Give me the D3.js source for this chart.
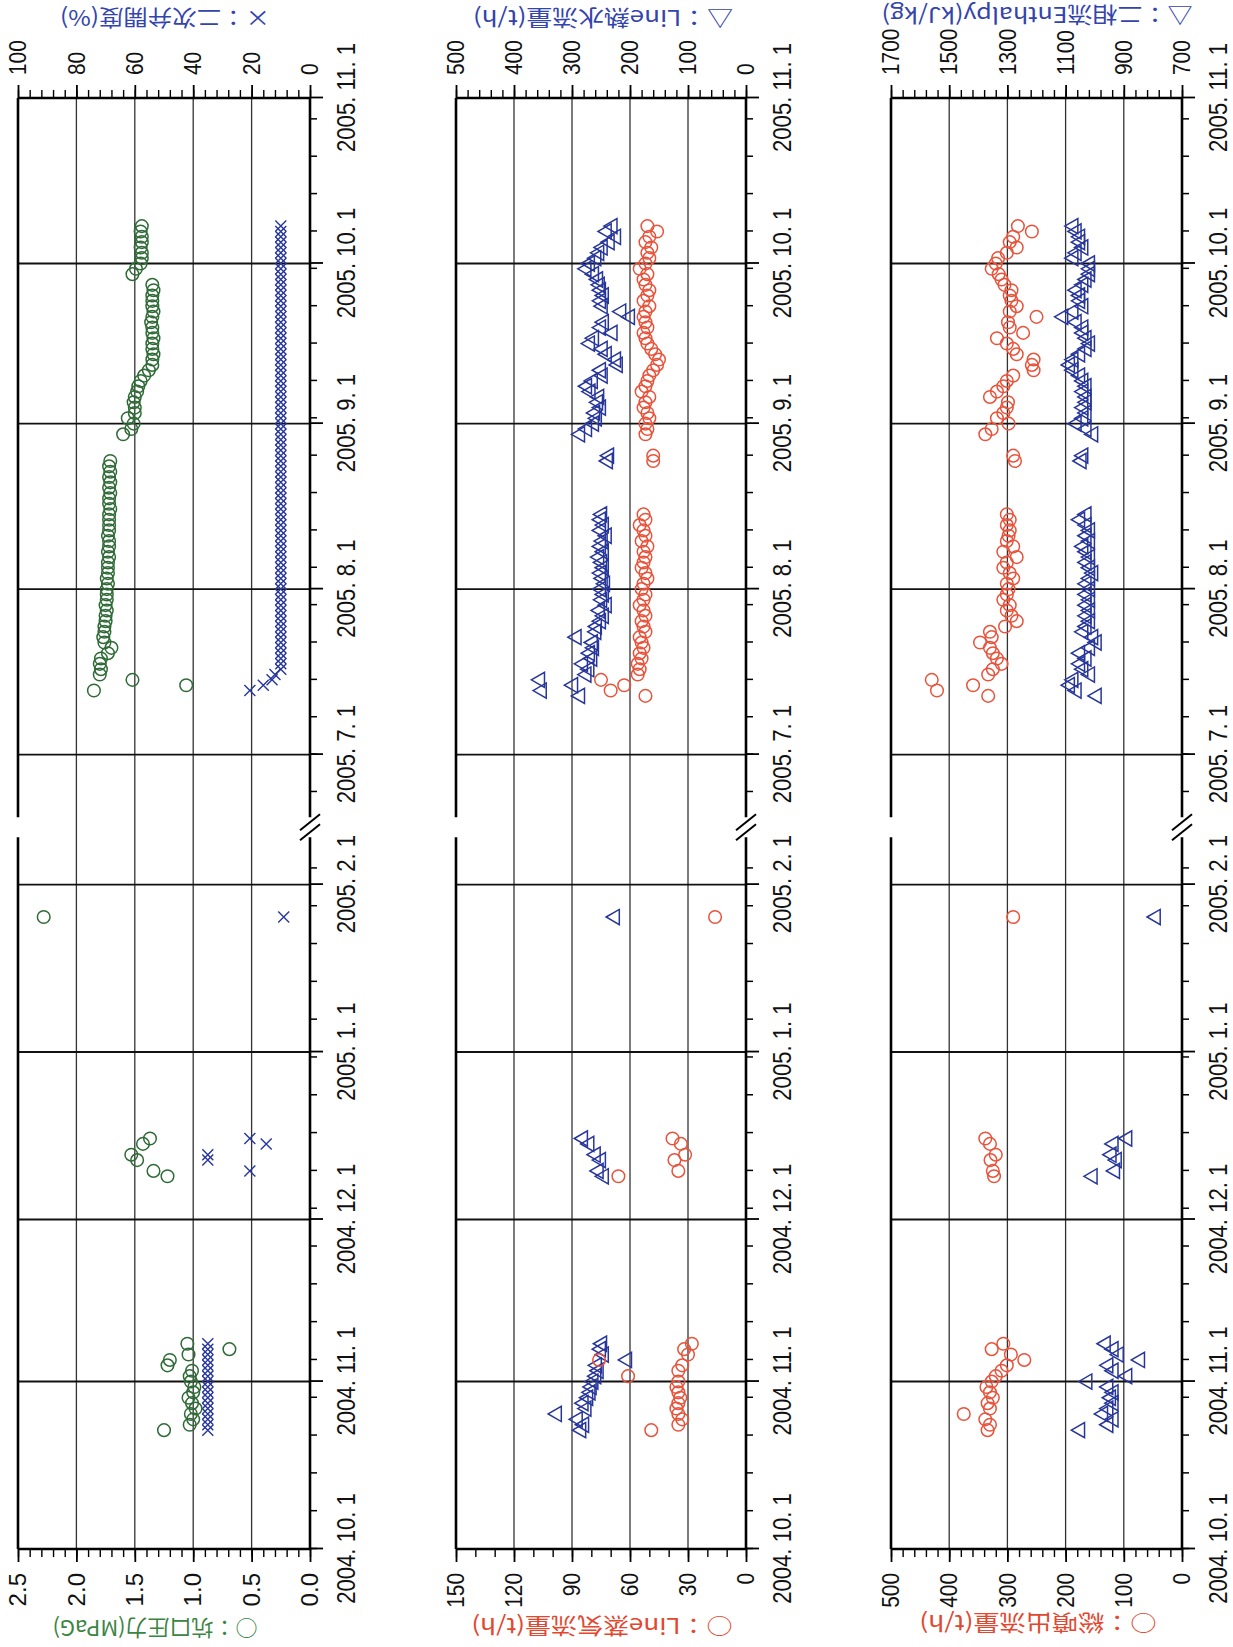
<!DOCTYPE html>
<html>
<head>
<meta charset="utf-8">
<script src="https://cdn.jsdelivr.net/npm/d3@7"></script>
<style>
  body { margin: 0; background: #fff; }
  svg { display: block; }
</style>
</head>
<body>
<svg id="chart" width="1233" height="1647"></svg>
<script>
// well head readings (left panel)
const wellDates = [
  "2004-10-23","2004-10-24","2004-10-25","2004-10-26","2004-10-27","2004-10-28","2004-10-29","2004-10-30","2004-10-31",
  "2004-11-01","2004-11-02","2004-11-03","2004-11-04","2004-11-05","2004-11-06","2004-11-07","2004-11-08",
  "2004-12-09","2004-12-10","2004-12-12","2004-12-13","2004-12-15","2004-12-16",
  "2005-01-26",
  "2005-07-13","2005-07-14","2005-07-15","2005-07-16","2005-07-17","2005-07-18","2005-07-19","2005-07-20","2005-07-21",
  "2005-07-22","2005-07-23","2005-07-24","2005-07-25","2005-07-26","2005-07-27","2005-07-28","2005-07-29","2005-07-30","2005-07-31",
  "2005-08-01","2005-08-02","2005-08-03","2005-08-04","2005-08-05","2005-08-06","2005-08-07","2005-08-08","2005-08-09","2005-08-10",
  "2005-08-11","2005-08-12","2005-08-13","2005-08-14","2005-08-15","2005-08-16","2005-08-17","2005-08-18","2005-08-19","2005-08-20",
  "2005-08-21","2005-08-22","2005-08-23","2005-08-24","2005-08-25","2005-08-26","2005-08-27","2005-08-28","2005-08-29","2005-08-30","2005-08-31",
  "2005-09-01","2005-09-02","2005-09-03","2005-09-04","2005-09-05","2005-09-06","2005-09-07","2005-09-08","2005-09-09","2005-09-10",
  "2005-09-11","2005-09-12","2005-09-13","2005-09-14","2005-09-15","2005-09-16","2005-09-17","2005-09-18","2005-09-19","2005-09-20",
  "2005-09-21","2005-09-22","2005-09-23","2005-09-24","2005-09-25","2005-09-26","2005-09-27","2005-09-28","2005-09-29","2005-09-30",
  "2005-10-01","2005-10-02","2005-10-03","2005-10-04","2005-10-05","2005-10-06","2005-10-07","2005-10-08"
];
const wellPressure = [
  1.25, 1.03, 1.00, 1.02, 0.98, 1.01, 1.04, 1.00, 0.99,
  1.02, 1.03, 1.01, 1.22, 1.20, 1.04, 0.69, 1.05,
  1.22, 1.34, 1.48, 1.53, 1.43, 1.37,
  2.28,
  1.85, 1.06, 1.52, 1.80, 1.79, 1.80, 1.79, 1.73, 1.70,
  1.76, 1.77, 1.76, 1.76, 1.75, 1.75, 1.74, 1.75, 1.74, 1.74,
  1.74, 1.73, 1.74, 1.73, 1.73, 1.73, 1.72, 1.73, 1.72, 1.72,
  1.73, 1.72, 1.72, 1.72, 1.72, 1.71, 1.72, 1.72, 1.71, 1.72,
  1.71, 1.72, 1.71, 1.72, 1.71, null, null, null, null, 1.60, 1.53,
  1.51, 1.56, 1.50, 1.50, 1.51, 1.50, 1.48, 1.47, 1.45, 1.42,
  1.38, 1.35, 1.35, 1.34, 1.35, 1.35, 1.34, 1.35, 1.35, 1.36,
  1.35, 1.34, 1.35, 1.35, 1.35, 1.34, 1.35, null, 1.52, 1.49,
  1.45, 1.44, 1.44, 1.45, 1.44, 1.44, 1.45, 1.44
];
const valveOpening = [
  35, 35, 35, 35, 35, 35, 35, 35, 35,
  35, 35, 35, 35, 35, 35, 35, 35,
  null, 20.6, 35, 35, 15, 20.6,
  9,
  20.6, 16, 13, 12, 10, 10, 10, 10, 10,
  10, 10, 10, 10, 10, 10, 10, 10, 10, 10,
  10, 10, 10, 10, 10, 10, 10, 10, 10, 10,
  10, 10, 10, 10, 10, 10, 10, 10, 10, 10,
  10, 10, 10, 10, 10, 10, 10, 10, 10, 10, 10,
  10, 10, 10, 10, 10, 10, 10, 10, 10, 10,
  10, 10, 10, 10, 10, 10, 10, 10, 10, 10,
  10, 10, 10, 10, 10, 10, 10, 10, 10, 10,
  10, 10, 10, 10, 10, 10, 10, 10
];

// flow measurements (middle and right panels)
const flowDates = [
  "2004-10-23","2004-10-24","2004-10-25","2004-10-26","2004-10-27","2004-10-28","2004-10-29","2004-10-30","2004-10-31",
  "2004-11-01","2004-11-02","2004-11-03","2004-11-04","2004-11-05","2004-11-06","2004-11-07","2004-11-08",
  "2004-12-09","2004-12-10","2004-12-12","2004-12-13","2004-12-15","2004-12-16",
  "2005-01-26",
  "2005-07-12","2005-07-13","2005-07-14","2005-07-15",
  "2005-07-16","2005-07-17","2005-07-18","2005-07-19","2005-07-20","2005-07-21","2005-07-22","2005-07-23","2005-07-24","2005-07-25",
  "2005-07-26","2005-07-27","2005-07-28","2005-07-29","2005-07-30","2005-07-31",
  "2005-08-01","2005-08-02","2005-08-03","2005-08-04","2005-08-05","2005-08-06","2005-08-07","2005-08-08","2005-08-09","2005-08-10",
  "2005-08-11","2005-08-12","2005-08-13","2005-08-14","2005-08-15",
  "2005-08-25","2005-08-26",
  "2005-08-30","2005-08-31",
  "2005-09-01","2005-09-02","2005-09-03","2005-09-04","2005-09-05","2005-09-06","2005-09-07","2005-09-08","2005-09-09","2005-09-10",
  "2005-09-11","2005-09-12","2005-09-13","2005-09-14","2005-09-15","2005-09-16","2005-09-17","2005-09-18","2005-09-19","2005-09-20",
  "2005-09-21","2005-09-22","2005-09-23","2005-09-24","2005-09-25","2005-09-26","2005-09-27","2005-09-28","2005-09-29","2005-09-30",
  "2005-10-01","2005-10-02","2005-10-03","2005-10-04","2005-10-05","2005-10-06","2005-10-07","2005-10-08"
];
const steamFlow = [
  49, 35, 33, 35, 36, 35, 34, 35, 36,
  35, 61, 35, 33, 76, 30, 32, 28,
  66, 35, 37, 31.5, 33.7, 38,
  16,
  52, 70, 63, 75,
  56, 55, 56, 54, 55, 53, 54, 55, 52, 53,
  54, 52, 53, 55, 53, 52,
  54, 53, 51, 52, 54, 53, 52, 53, 51, 54,
  52, 53, 55, 52, 53,
  48, 48,
  52, 51,
  52, 50, 51, 53, 52, 50, 54, 52, 51, 50,
  48, 46, 45, 47, 49, 51, 52, 53, 51, 52,
  53, 52, 50, 53, 51, 50, 52, 53, 51, 55,
  52, 50, 51, 49, 52, 50, 46, 51
];
const waterFlow = [
  284, 279, 290, 326, 275, 280, 272, 268, 266,
  263, 258, 254, 257, 205, 245, 250, 248,
  245, 254, 250, 259, 270, 281,
  226,
  286, 352, 298, 355,
  275, 270, 281, 265, 269, 262, 264, 292, 258, 257,
  250, 245, 252, 240, 248, 245,
  250, 243, 247, 250, 245, 248, 253, 245, 250, 247,
  240, 250, 245, 250, 248,
  238, 236,
  286, 274,
  262, 257, 260, 250, 255, 253, 268, 274, 264, 247,
  250, 221, 224, 240, 247, 269, 262, 230, 250, 245,
  200, 215, 247, 250, 245, 250, 252, 255, 262, 275,
  269, 258, 253, 247, 235, 224, 240, 230
];
const totalFlow = [
  334, 330, 338, 375, 330, 334, 325, 330, 336,
  327, 320, 310, 301, 271, 294, 327, 307,
  323, 325, 329, 320, 330, 338,
  290,
  333, 421, 359, 430,
  333, 325, 310, 318, 325, 330, 347, 327, 330, 304,
  284, 293, 301, 296, 307, 301,
  298, 301, 290, 296, 307, 301, 284, 307, 290, 301,
  298, 296, 301, 296, 301,
  287, 290,
  338, 327,
  298, 318, 307, 301, 299, 330, 318, 307, 301, 290,
  255, 258, 255, 284, 290, 301, 318, 273, 296, 299,
  250, 296, 284, 293, 296, 293, 305, 310, 315, 327,
  320, 316, 301, 284, 296, 290, 258, 282
];
const enthalpy = [
  1050, 953, 935, 971, 953, 935, 944, 935, 953,
  1025, 888, 935, 953, 844, 917, 935, 962,
  1007, 930, 924, 942, 935, 888,
  790,
  993, 1062, 1085, 1073,
  1016, 1039, 1050, 1028, 1050, 1016, 993, 1005, 1039, 1028,
  1016, 1028, 1016, 1028, 1016, 1028,
  1016, 1028, 1016, 1005, 1016, 1028, 1016, 1028, 1039, 1016,
  1028, 1016, 1028, 1050, 1028,
  1045, 1039,
  1005, 1028,
  1062, 1039, 1028, 1039, 1028, 1028, 1039, 1028, 1039, 1050,
  1073, 1085, 1073, 1050, 1028, 1016, 1028, 1039, 1039, 1062,
  1108, 1073, 1039, 1050, 1050, 1062, 1039, 1028, 1016, 1016,
  1016, 1073, 1062, 1039, 1050, 1050, 1062, 1073
];

// axis ticks
const monthTicks = ["2004-10-01","2004-11-01","2004-12-01","2005-01-01","2005-02-01",
                    "2005-07-01","2005-08-01","2005-09-01","2005-10-01","2005-11-01"];
const axisSegments = ["2004-10-01","2005-02-11","2005-06-18","2005-11-01"]; // broken time axis
const pressureTicks = [0, 0.5, 1.0, 1.5, 2.0, 2.5];
const valveTicks = [0, 20, 40, 60, 80, 100];
const steamTicks = [0, 30, 60, 90, 120, 150];
const waterTicks = [0, 100, 200, 300, 400, 500];
const totalTicks = [0, 100, 200, 300, 400, 500];
const enthalpyTicks = [700, 900, 1100, 1300, 1500, 1700];

document.addEventListener("DOMContentLoaded", function() {
    const W = 1647; // the chart is drawn landscape, then turned onto the portrait page
    const svg = d3.select("#chart");
    const g = svg.append("g").attr("transform", `translate(0,${W}) rotate(-90)`);
    const parse = d3.timeParse("%Y-%m-%d");

    const GREEN = "#2f6b36", GREEN_T = "#3b8443";
    const BLUE = "#27369a", BLUE_T = "#3444ad";
    const RED = "#e8533b", RED_T = "#e2472f";

    const x = d3.scaleTime().domain(axisSegments.map(parse)).range([98, 816.4, 823, 1549]);
    const xa = x(parse(axisSegments[0])), xb = x(parse(axisSegments[3]));
    const breakX = (x(parse(axisSegments[1])) + x(parse(axisSegments[2]))) / 2;
    const fmtDate = d => `${d.getFullYear()}. ${d.getMonth() + 1}. ${d.getDate()}`;
    const fridays = d3.timeFriday.range(parse(axisSegments[0]), parse(axisSegments[1]))
        .concat(d3.timeFriday.range(parse(axisSegments[2]), parse(axisSegments[3])));

    const wellRows = wellDates.map((d, i) => ({date: parse(d), a: wellPressure[i], b: valveOpening[i]}));
    const steamRows = flowDates.map((d, i) => ({date: parse(d), a: steamFlow[i], b: waterFlow[i]}));
    const totalRows = flowDates.map((d, i) => ({date: parse(d), a: totalFlow[i], b: enthalpy[i]}));

    const panels = [
        {top: 18, bottom: 310, rows: wellRows,
         left: {ticks: pressureTicks, minor: 0.1, fmt: d3.format(".1f"), k: 1.0},
         right: {ticks: valveTicks, minor: 4, fmt: d3.format("d"), k: 0.87},
         aColor: GREEN, bMark: "cross", bColor: BLUE,
         titles: [
             {text: "○：坑口圧力(MPaG)", color: GREEN_T, ox: 17, oy: 155, len: 205},
             {text: "×：二次弁開度(%)", color: BLUE_T, ox: 1627, oy: 165, len: 210}]},
        {top: 456, bottom: 746, rows: steamRows,
         left: {ticks: steamTicks, minor: 10, fmt: d3.format("d"), k: 0.87},
         right: {ticks: waterTicks, minor: 20, fmt: d3.format("d"), k: 0.87},
         aColor: RED, bMark: "triangle", bColor: BLUE,
         titles: [
             {text: "○：Line蒸気流量(t/h)", color: RED_T, ox: 19, oy: 602, len: 261},
             {text: "△：Line熱水流量(t/h)", color: BLUE_T, ox: 1627, oy: 603, len: 260}]},
        {top: 891, bottom: 1182, rows: totalRows,
         left: {ticks: totalTicks, minor: 20, fmt: d3.format("d"), k: 0.87},
         right: {ticks: enthalpyTicks, minor: 40, fmt: d3.format("d"), k: 0.87},
         aColor: RED, bMark: "triangle", bColor: BLUE,
         titles: [
             {text: "○：総噴出流量(t/h)", color: RED_T, ox: 22, oy: 1038, len: 237},
             {text: "△：二相流Enthalpy(kJ/kg)", color: BLUE_T, ox: 1630, oy: 1037, len: 311}]}
    ];

    function squeeze(sel, k) {
        sel.each(function() {
            const L = this.getComputedTextLength();
            d3.select(this).attr("textLength", L * k).attr("lengthAdjust", "spacingAndGlyphs");
        });
    }

    function styleAxis(ax, size) {
        ax.attr("font-family", "'Liberation Sans', Arial, sans-serif").attr("font-size", size);
        ax.select(".domain").remove();
        ax.selectAll("line").attr("stroke", "#000").attr("stroke-width", 1.8);
        ax.selectAll("text").attr("fill", "#111");
    }

    panels.forEach(p => {
        const yA = d3.scaleLinear().domain(d3.extent(p.left.ticks)).range([p.bottom, p.top]);
        const yB = d3.scaleLinear().domain(d3.extent(p.right.ticks)).range([p.bottom, p.top]);

        // value grid
        g.append("g").selectAll("line")
            .data(p.left.ticks.slice(1, -1))
            .enter().append("line")
            .attr("x1", xa).attr("x2", xb)
            .attr("y1", d => yA(d)).attr("y2", d => yA(d))
            .attr("stroke", "#333").attr("stroke-width", 1.3);

        // month grid
        g.append("g").selectAll("line")
            .data(monthTicks.slice(1, -1).map(parse))
            .enter().append("line")
            .attr("x1", d => x(d)).attr("x2", d => x(d))
            .attr("y1", p.top).attr("y2", p.bottom)
            .attr("stroke", "#111").attr("stroke-width", 1.9);

        // value axes, left and right of the landscape frame
        const lo = d3.extent(p.left.ticks), ro = d3.extent(p.right.ticks);
        const axL = g.append("g").attr("transform", `translate(${xa},0)`)
            .call(d3.axisLeft(yA).tickValues(p.left.ticks).tickSize(13).tickPadding(11).tickFormat(p.left.fmt));
        styleAxis(axL, 24);
        squeeze(axL.selectAll("text"), p.left.k);
        const axLm = g.append("g").attr("transform", `translate(${xa},0)`)
            .call(d3.axisLeft(yA).tickValues(d3.range(lo[0], lo[1] + 1e-9, p.left.minor)).tickSize(8).tickFormat(""));
        styleAxis(axLm, 10);
        axLm.selectAll("line").attr("stroke-width", 1.4);

        const axR = g.append("g").attr("transform", `translate(${xb},0)`)
            .call(d3.axisRight(yB).tickValues(p.right.ticks).tickSize(13).tickPadding(10).tickFormat(p.right.fmt));
        styleAxis(axR, 24);
        squeeze(axR.selectAll("text"), p.right.k);
        const axRm = g.append("g").attr("transform", `translate(${xb},0)`)
            .call(d3.axisRight(yB).tickValues(d3.range(ro[0], ro[1] + 1e-9, p.right.minor)).tickSize(8).tickFormat(""));
        styleAxis(axRm, 10);
        axRm.selectAll("line").attr("stroke-width", 1.4);

        // time axis under each panel
        const axT = g.append("g").attr("transform", `translate(0,${p.bottom})`)
            .call(d3.axisBottom(x).tickValues(monthTicks.map(parse)).tickSize(13).tickPadding(14).tickFormat(fmtDate));
        styleAxis(axT, 26);
        squeeze(axT.selectAll("text"), 0.85);
        const axTm = g.append("g").attr("transform", `translate(0,${p.bottom})`)
            .call(d3.axisBottom(x).tickValues(fridays).tickSize(7).tickFormat(""));
        styleAxis(axTm, 10);
        axTm.selectAll("line").attr("stroke-width", 1.5);

        // frame, with the break in the time direction
        const frame = g.append("g").attr("stroke", "#000").attr("stroke-width", 2.6).attr("fill", "none");
        [xa, xb].forEach(xx => frame.append("line").attr("x1", xx).attr("x2", xx).attr("y1", p.top).attr("y2", p.bottom));
        [p.top, p.bottom].forEach(yy => {
            frame.append("line").attr("x1", xa).attr("x2", breakX - 10).attr("y1", yy).attr("y2", yy);
            frame.append("line").attr("x1", breakX + 10).attr("x2", xb).attr("y1", yy).attr("y2", yy);
        });
        [-5, 5].forEach(dx => frame.append("line")
            .attr("x1", breakX + dx - 8).attr("y1", p.bottom - 10)
            .attr("x2", breakX + dx + 8).attr("y2", p.bottom + 10)
            .attr("stroke-width", 2));

        // markers
        const bRows = p.rows.filter(d => d.b != null);
        const aRows = p.rows.filter(d => d.a != null);
        if (p.bMark === "cross") {
            g.append("g").selectAll("path").data(bRows).enter().append("path")
                .attr("transform", d => `translate(${x(d.date)},${yB(d.b)})`)
                .attr("d", "M-5.5,-5.5L5.5,5.5M-5.5,5.5L5.5,-5.5")
                .attr("stroke", p.bColor).attr("stroke-width", 1.4).attr("fill", "none");
        } else {
            g.append("g").selectAll("path").data(bRows).enter().append("path")
                .attr("transform", d => `translate(${x(d.date)},${yB(d.b)})`)
                .attr("d", d3.symbol(d3.symbolTriangle, 100))
                .attr("stroke", p.bColor).attr("stroke-width", 1.5).attr("fill", "none");
        }
        g.append("g").selectAll("circle").data(aRows).enter().append("circle")
            .attr("cx", d => x(d.date)).attr("cy", d => yA(d.a)).attr("r", 6.3)
            .attr("stroke", p.aColor).attr("stroke-width", 1.5).attr("fill", "none");

        // axis titles
        p.titles.forEach(t => {
            g.append("text")
                .attr("transform", `translate(${t.ox},${t.oy}) rotate(-90)`)
                .attr("text-anchor", "middle").attr("dominant-baseline", "central")
                .attr("font-family", "'Noto Sans CJK JP', sans-serif").attr("font-size", 22)
                .attr("fill", t.color)
                .attr("textLength", t.len).attr("lengthAdjust", "spacingAndGlyphs")
                .text(t.text);
        });
    });
});
</script>
</body>
</html>
